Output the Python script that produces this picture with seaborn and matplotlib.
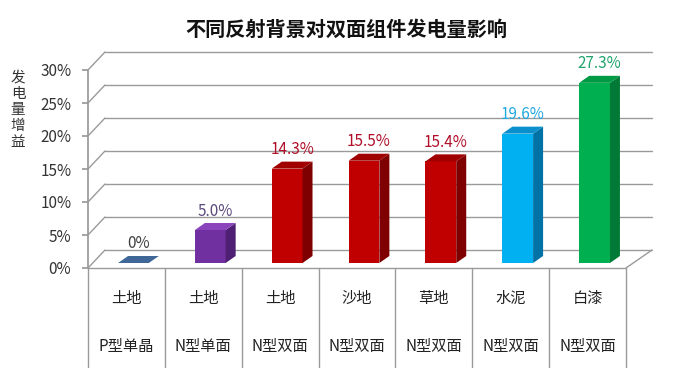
import matplotlib
matplotlib.use("Agg")
import matplotlib.pyplot as plt
import matplotlib.transforms as mtransforms
from matplotlib.patches import Polygon
import seaborn as sns
import pandas as pd

# 数据
surface = ["土地", "土地", "土地", "沙地", "草地", "水泥", "白漆"]
module = ["P型单晶", "N型单面", "N型双面", "N型双面", "N型双面", "N型双面", "N型双面"]
gain = [0.0, 5.0, 14.3, 15.5, 15.4, 19.6, 27.3]
value_labels = ["0%", "5.0%", "14.3%", "15.5%", "15.4%", "19.6%", "27.3%"]
yticks = [0, 5, 10, 15, 20, 25, 30]

front_colors = ["#3f6898", "#7030a0", "#c00000", "#c00000", "#c00000", "#00b0f0", "#00b050"]
side_colors = ["#2e4f78", "#4e1f72", "#7e0000", "#7e0000", "#7e0000", "#0072a6", "#007a36"]
top_colors = ["#3f6898", "#8a44bc", "#a00000", "#a00000", "#a00000", "#0a90cc", "#009a45"]
label_colors = ["#404040", "#5c4a7c", "#b0102a", "#b0102a", "#b0102a", "#22a8e0", "#21a36c"]

df = pd.DataFrame({"key": [s + m for s, m in zip(surface, module)], "gain": gain})

sns.set_theme(style="white")
plt.rcParams['font.family'] = ['Noto Sans CJK SC', 'DejaVu Sans']

W, H = 692, 387
fig = plt.figure(figsize=(W / 100, H / 100), dpi=100)
L, R, B, T = 88, 626, 268, 70          # 前平面像素位置
ax = fig.add_axes([L / W, (H - B) / H, (R - L) / W, (B - T) / H])
n = len(gain)

sns.barplot(data=df, x="key", y="gain", hue="key", palette=front_colors,
            width=0.4, saturation=1, legend=False, ax=ax)
ax.set_xlim(-0.5, n - 0.5)
ax.set_ylim(0, 30)

ux = (R - L) / n      # 每个类别的像素
uy = (B - T) / 30     # 每 1% 的像素
grid_c = "#9a9a9a"


def shifted(dx, dy):
    return ax.transData + mtransforms.ScaledTranslation(dx / 100, dy / 100, fig.dpi_scale_trans)


# 背景墙和地面
bl, br, bd = 17 / ux, 26 / ux, 18 / uy
for v in yticks:
    ax.plot([-0.5, -0.5 + bl], [v, v + bd], color=grid_c, lw=1, clip_on=False, zorder=0)
    ax.plot([-0.5 + bl, n - 0.5 + br], [v + bd, v + bd], color=grid_c, lw=1, clip_on=False, zorder=0)
ax.plot([-0.5, n - 0.5], [0, 0], color=grid_c, lw=1, clip_on=False, zorder=0)
ax.plot([n - 0.5, n - 0.5 + br], [0, bd], color=grid_c, lw=1, clip_on=False, zorder=0)

# 立体柱子
tr = shifted(7, 5)
ddx, ddy = 10 / ux, 7 / uy
for i, p in enumerate(ax.patches):
    p.set_transform(tr)
    p.set_linewidth(0)
    p.set_zorder(3)
    x0, w, h = p.get_x(), p.get_width(), p.get_height()
    x1 = x0 + w
    side = Polygon([(x1, 0), (x1 + ddx, ddy), (x1 + ddx, h + ddy), (x1, h)],
                   closed=True, fc=side_colors[i], ec="none", transform=tr, zorder=3, clip_on=False)
    top = Polygon([(x0, h), (x1, h), (x1 + ddx, h + ddy), (x0 + ddx, h + ddy)],
                  closed=True, fc=top_colors[i], ec="none", transform=tr, zorder=3, clip_on=False)
    ax.add_patch(side)
    ax.add_patch(top)
    ax.text(x0 + w / 2, h, value_labels[i], transform=shifted(12, 24),
            ha="center", va="center", fontsize=11, color=label_colors[i])

# 坐标轴
for s in ["top", "right", "bottom"]:
    ax.spines[s].set_visible(False)
ax.spines["left"].set_color(grid_c)
ax.set_yticks(yticks)
ax.set_yticklabels([f"{v}%" for v in yticks], fontsize=11, color="#333333")
ax.tick_params(axis="y", left=True, length=4, color=grid_c, pad=8)
ax.set_xticks([])
ax.set_xlabel("")
ax.set_ylabel("")

# 下方表格
btr = mtransforms.blended_transform_factory(ax.transData, ax.transAxes)
table_bottom = -(367 - B) / (B - T)
for k in range(n + 1):
    ax.plot([k - 0.5, k - 0.5], [0, table_bottom], color=grid_c, lw=1,
            transform=btr, clip_on=False)
row1 = -(298 - B) / (B - T)
row2 = -(346 - B) / (B - T)
for i in range(n):
    ax.text(i, row1, surface[i], transform=btr, ha="center", va="center", fontsize=11, color="#222222")
    ax.text(i, row2, module[i], transform=btr, ha="center", va="center", fontsize=11, color="#222222")

# 标题与纵轴标题
fig.text(0.5, 1 - 29 / H, "不同反射背景对双面组件发电量影响", ha="center", va="center",
         fontsize=14.5, fontweight="bold", color="#111111")
fig.text(18 / W, 1 - 110 / H, "\n".join("发电量增益"), ha="center", va="center",
         fontsize=10.5, linespacing=1.2, color="#333333")

fig.savefig("out.png", dpi=100)
